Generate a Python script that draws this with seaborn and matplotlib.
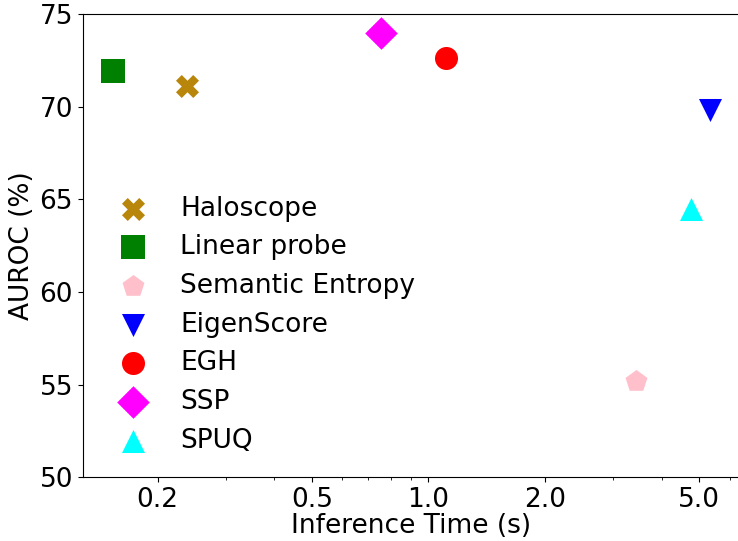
import matplotlib
matplotlib.use("Agg")
import matplotlib.pyplot as plt
import seaborn as sns
from matplotlib.ticker import FixedLocator, FormatStrFormatter, NullFormatter

# Detection methods: inference cost vs. AUROC
methods = ["Haloscope", "Linear probe", "Semantic Entropy", "EigenScore", "EGH", "SSP", "SPUQ"]
inference_time = [0.238, 0.153, 3.44, 5.32, 1.11, 0.754, 4.76]
auroc = [71.1, 71.9, 55.2, 69.8, 72.6, 74.0, 64.5]
marker_shapes = ["X", "s", "p", "v", "o", "D", "^"]
marker_colors = ["darkgoldenrod", "green", "pink", "blue", "red", "magenta", "cyan"]

x_ticks = [0.2, 0.5, 1.0, 2.0, 5.0]
y_ticks = [50, 55, 60, 65, 70, 75]

FS = 19
W, H = 738, 541

fig = plt.figure(figsize=(W / 100, H / 100), dpi=100)
ax = fig.add_axes([82.7 / W, 1 - 477.3 / H, (739.5 - 82.7) / W, (477.3 - 14.0) / H])
ax.set_xscale("log")

for name, t, a, m, c in zip(methods, inference_time, auroc, marker_shapes, marker_colors):
    sns.scatterplot(x=[t], y=[a], marker=m, color=c, s=275, linewidth=0,
                    label=name, ax=ax, legend=False)

ax.set_ylim(50, 75)
ax.set_yticks(y_ticks)
ax.xaxis.set_major_locator(FixedLocator(x_ticks))
ax.xaxis.set_major_formatter(FormatStrFormatter("%.1f"))
ax.xaxis.set_minor_formatter(NullFormatter())
ax.tick_params(axis="both", which="major", labelsize=FS)

ax.set_xlabel("Inference Time (s)", fontsize=FS, labelpad=0)
ax.set_ylabel("AUROC (%)", fontsize=FS, labelpad=3)

ax.legend(loc="lower left", frameon=False, fontsize=FS, labelspacing=0.48)

fig.savefig("out.png", dpi=100)
